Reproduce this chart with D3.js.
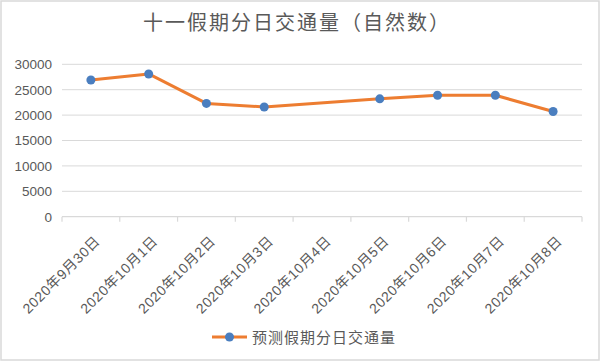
<!DOCTYPE html>
<html>
<head>
<meta charset="utf-8">
<script src="https://cdn.jsdelivr.net/npm/d3@7"></script>
<style>
  body { margin: 0; background: #fff; }
  text { font-family: "Liberation Sans", "Noto Sans CJK SC", sans-serif; fill: #595959; }
</style>
</head>
<body>
<script>
var title = "十一假期分日交通量（自然数）";
var seriesName = "预测假期分日交通量";
var days = ["2020年9月30日", "2020年10月1日", "2020年10月2日", "2020年10月3日", "2020年10月4日",
            "2020年10月5日", "2020年10月6日", "2020年10月7日", "2020年10月8日"];
// 10月4日 has no value in the source chart
var traffic = [26900, 28100, 22300, 21600, null, 23200, 23900, 23900, 20700];
var yTicks = [0, 5000, 10000, 15000, 20000, 25000, 30000];

var width = 603, height = 363;
var svg = d3.select("body").append("svg").attr("width", width).attr("height", height);

svg.append("rect").attr("x", 1).attr("y", 1).attr("width", 598).attr("height", 359)
   .attr("fill", "#fff").attr("stroke", "#d9d9d9").attr("stroke-width", 1.5);

var x = d3.scaleBand().domain(days).range([62, 582]);
var y = d3.scaleLinear().domain([0, 30000]).range([216.7, 64.3]);

svg.append("text").attr("x", 297).attr("y", 30).attr("text-anchor", "middle")
   .attr("font-size", 20).attr("letter-spacing", 2).text(title);

// gridlines
svg.append("g").selectAll("line").data(yTicks.slice(1)).enter().append("line")
   .attr("x1", 62).attr("x2", 582)
   .attr("y1", function(d){return y(d);}).attr("y2", function(d){return y(d);})
   .attr("stroke", "#d9d9d9").attr("stroke-width", 1);

// y axis labels
var yAxis = d3.axisLeft(y).tickValues(yTicks).tickFormat(d3.format("d")).tickSize(0).tickPadding(10);
var yg = svg.append("g").attr("transform", "translate(62,0)").call(yAxis);
yg.select(".domain").remove();
yg.selectAll("text").attr("font-size", 13.5).attr("fill", "#595959")
  .attr("font-family", "Liberation Sans, sans-serif");

// x axis: ticks on band edges
var xg = svg.append("g").attr("transform", "translate(0," + y(0) + ")");
xg.append("line").attr("x1", 62).attr("x2", 582).attr("stroke", "#d9d9d9").attr("stroke-width", 1.2);
var edges = days.map(function(d){return x(d);}).concat([x.range()[1]]);
xg.selectAll("line.tick").data(edges).enter().append("line").attr("class", "tick")
  .attr("x1", function(d){return d;}).attr("x2", function(d){return d;})
  .attr("y1", 0).attr("y2", 5).attr("stroke", "#d9d9d9").attr("stroke-width", 1.2);

svg.append("g").selectAll("text").data(days).enter().append("text")
   .attr("transform", function(d){
       return "translate(" + (x(d) + x.bandwidth()/2 + 10) + ",242) rotate(-45)";
   })
   .attr("text-anchor", "end").attr("font-size", 14).attr("letter-spacing", 0.6)
   .text(function(d){return d;});

// series line (gap at missing day is bridged)
var pts = days.map(function(d, i){return {day: d, v: traffic[i]};})
              .filter(function(p){return p.v !== null;});
var line = d3.line().x(function(p){return x(p.day) + x.bandwidth()/2;})
                    .y(function(p){return y(p.v);});
svg.append("path").attr("d", line(pts)).attr("fill", "none")
   .attr("stroke", "#ED7D31").attr("stroke-width", 3).attr("stroke-linejoin", "round");

svg.append("g").selectAll("circle").data(pts).enter().append("circle")
   .attr("cx", function(p){return x(p.day) + x.bandwidth()/2;})
   .attr("cy", function(p){return y(p.v);})
   .attr("r", 4.5).attr("fill", "#4A7EBF");

// legend
var lg = svg.append("g");
lg.append("line").attr("x1", 212).attr("x2", 247).attr("y1", 337).attr("y2", 337)
  .attr("stroke", "#ED7D31").attr("stroke-width", 3);
lg.append("circle").attr("cx", 229.5).attr("cy", 337).attr("r", 4.5).attr("fill", "#4A7EBF");
lg.append("text").attr("x", 252).attr("y", 342.5).attr("font-size", 15).attr("letter-spacing", 1)
  .text(seriesName);
</script>
</body>
</html>
